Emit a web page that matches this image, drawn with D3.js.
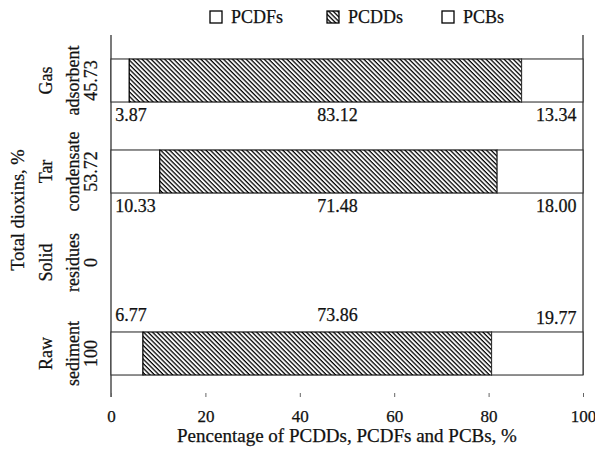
<!DOCTYPE html>
<html>
<head>
<meta charset="utf-8">
<script src="https://cdn.jsdelivr.net/npm/d3@7"></script>
<style>
  body { margin: 0; background: #fff; }
  text { font-family: "Liberation Serif", "Times New Roman", serif; fill: #111; stroke: #111; stroke-width: 0.25px; }
</style>
</head>
<body>
<svg id="chart"></svg>
<script>
// Rows from top to bottom
const rows = ["Gas adsorbent", "Tar condensate", "Solid residues", "Raw sediment"];
const rowLine1 = ["Gas", "Tar", "Solid", "Raw"];
const rowLine2 = ["adsorbent", "condensate", "residues", "sediment"];
const totals = ["45.73", "53.72", "0", "100"];

// Shares in % (solid residues had nothing)
const pcdfs = [3.87, 10.33, null, 6.77];
const pcdds = [83.12, 71.48, null, 73.86];
const pcbs = [13.34, 18.00, null, 19.77];

const series = ["PCDFs", "PCDDs", "PCBs"];
const xTicks = [0, 20, 40, 60, 80, 100];

let width = 595;
let height = 449;

let svg = d3.select("#chart")
    .attr("width", width)
    .attr("height", height);

// hatch pattern for PCDDs
let defs = svg.append("defs");
let pat = defs.append("pattern")
    .attr("id", "hatch")
    .attr("patternUnits", "userSpaceOnUse")
    .attr("width", 3.2)
    .attr("height", 3.2)
    .attr("patternTransform", "rotate(-45)");
pat.append("rect").attr("width", 3.2).attr("height", 3.2).attr("fill", "#fff");
pat.append("line")
    .attr("x1", 1).attr("y1", 0)
    .attr("x2", 1).attr("y2", 3.2)
    .attr("stroke", "#000")
    .attr("stroke-width", 1.3);

let plotTop = 35;
let plotBottom = 397;

let xScale = d3.scaleLinear()
    .domain([0, 100])
    .range([111, 583]);

let yScale = d3.scaleBand()
    .domain(rows)
    .range([plotTop, plotTop + 4 * 91])
    .paddingInner(0.527)
    .paddingOuter(0.2635);

// build stacked table
let table = rows.map((r, i) => ({
    row: r, i: i,
    segs: pcdfs[i] == null ? [] : [
        { key: "PCDFs", x0: 0, x1: pcdfs[i], v: pcdfs[i] },
        { key: "PCDDs", x0: pcdfs[i], x1: pcdfs[i] + pcdds[i], v: pcdds[i] },
        { key: "PCBs", x0: pcdfs[i] + pcdds[i], x1: 100, v: pcbs[i] }
    ]
}));

// frame lines
svg.append("line")
    .attr("x1", xScale(0)).attr("x2", xScale(0))
    .attr("y1", plotTop).attr("y2", plotBottom)
    .attr("stroke", "#222").attr("stroke-width", 1.2);
svg.append("line")
    .attr("x1", xScale(100)).attr("x2", xScale(100))
    .attr("y1", plotTop).attr("y2", yScale("Raw sediment") + yScale.bandwidth())
    .attr("stroke", "#222").attr("stroke-width", 1.2);

// bars
let groups = svg.selectAll(".row")
    .data(table)
    .enter().append("g")
    .attr("class", "row");

groups.selectAll("rect")
    .data(d => d.segs.map(s => Object.assign({ row: d.row }, s)))
    .enter().append("rect")
    .attr("x", d => xScale(d.x0))
    .attr("y", d => yScale(d.row))
    .attr("width", d => xScale(d.x1) - xScale(d.x0))
    .attr("height", yScale.bandwidth())
    .attr("fill", d => d.key === "PCDDs" ? "url(#hatch)" : "#fff")
    .attr("stroke", d => d.key === "PCDDs" ? "#000" : "#333")
    .attr("stroke-width", 1.1);

// value labels
groups.each(function(d) {
    if (!d.segs.length) return;
    let above = d.row === "Raw sediment";
    let yb = above ? yScale(d.row) - 11 : yScale(d.row) + yScale.bandwidth() + 19;
    let g = d3.select(this);
    g.append("text").attr("x", xScale(0.9)).attr("y", yb)
        .attr("font-size", 18).attr("text-anchor", "start")
        .text(d.segs[0].v.toFixed(2));
    g.append("text").attr("x", xScale(48)).attr("y", yb)
        .attr("font-size", 18).attr("text-anchor", "middle")
        .text(d.segs[1].v.toFixed(2));
    g.append("text").attr("x", xScale(98.6)).attr("y", yb + (above ? 3 : 0))
        .attr("font-size", 18).attr("text-anchor", "end")
        .text(d.segs[2].v.toFixed(2));
});

// row labels (rotated)
let rowLab = svg.selectAll(".rowlab")
    .data(rows)
    .enter().append("g")
    .attr("class", "rowlab")
    .attr("transform", d => `translate(0, ${yScale(d) + yScale.bandwidth() / 2}) rotate(-90)`);

rowLab.append("text").attr("x", 0).attr("y", 52)
    .attr("text-anchor", "middle").attr("font-size", 18)
    .text((d, i) => rowLine1[i]);
rowLab.append("text").attr("x", 0).attr("y", 79)
    .attr("text-anchor", "middle").attr("font-size", 18)
    .text((d, i) => rowLine2[i]);
rowLab.append("text").attr("x", 0).attr("y", 97)
    .attr("text-anchor", "middle").attr("font-size", 18)
    .text((d, i) => totals[i]);

svg.append("text")
    .attr("transform", `translate(24, 210) rotate(-90)`)
    .attr("text-anchor", "middle")
    .attr("font-size", 18.5)
    .text("Total dioxins, %");

// x axis
let xAxis = svg.append("g")
    .attr("transform", `translate(0, ${plotBottom})`)
    .call(d3.axisBottom(xScale).tickValues(xTicks).tickSize(-4).tickPadding(13));
xAxis.select(".domain").remove();
xAxis.selectAll("line").attr("stroke", "#666");
xAxis.selectAll("text")
    .attr("font-size", 17)
    .style("font-family", "'Liberation Serif', serif")
    .attr("fill", "#111");

svg.append("text")
    .attr("x", xScale(50))
    .attr("y", 442)
    .attr("text-anchor", "middle")
    .attr("font-size", 19)
    .text("Pencentage of PCDDs, PCDFs and PCBs, %");

// legend
let legX = [210, 327, 442];
let leg = svg.selectAll(".leg")
    .data(series)
    .enter().append("g")
    .attr("class", "leg")
    .attr("transform", (d, i) => `translate(${legX[i]}, 11)`);
leg.append("rect")
    .attr("width", 12).attr("height", 12)
    .attr("fill", d => d === "PCDDs" ? "url(#hatch)" : "#fff")
    .attr("stroke", "#000").attr("stroke-width", 1.3);
leg.append("text")
    .attr("x", 21).attr("y", 12)
    .attr("font-size", 18)
    .text(d => d);
</script>
</body>
</html>
